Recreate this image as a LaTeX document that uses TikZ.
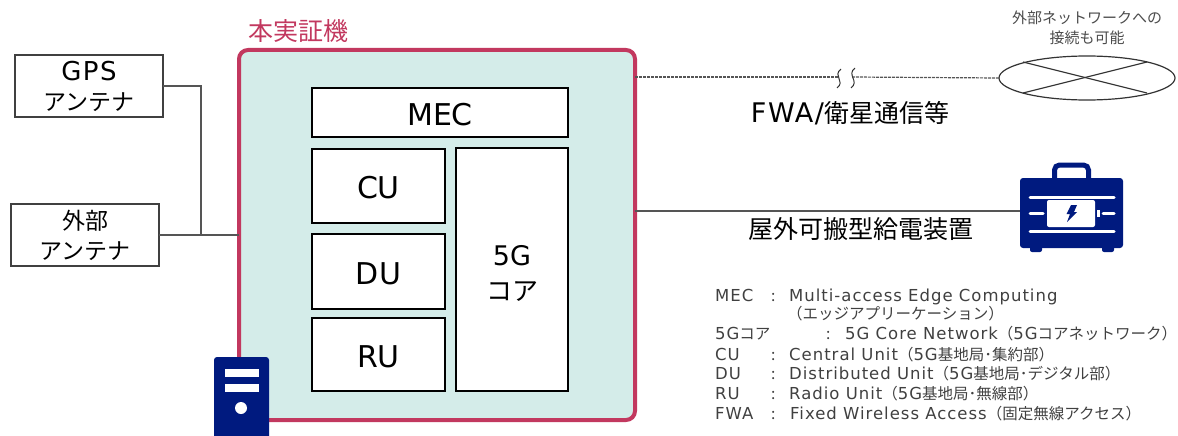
\documentclass[tikz,border=0pt]{standalone}
\usepackage{fontspec}
\usetikzlibrary{shapes.geometric}
\setmainfont{Noto Sans CJK JP}
\newfontfamily\latfont{DejaVu Sans}
\newfontfamily\widefont[LetterSpace=6]{DejaVu Sans}
\newcommand{\lat}[1]{{\widefont\fontsize{16.5}{20}\selectfont #1}}
\definecolor{framered}{HTML}{C2385F}
\definecolor{framefill}{HTML}{D4ECE9}
\definecolor{iconblue}{HTML}{001A7F}
\definecolor{wiregray}{HTML}{555555}
\tikzset{
    antbox/.style={draw=black!75, line width=1.3pt, fill=white, inner sep=0pt, outer sep=0pt, minimum width=148pt, minimum height=62pt, align=center, font=\fontsize{23}{30}\selectfont},
    unitbox/.style={draw=black, line width=1.8pt, fill=white, inner sep=0pt, outer sep=0pt, text height=26pt, font=\fontsize{30}{35}\latfont},
    wire/.style={draw=wiregray, line width=1.2pt},
    bigtext/.style={inner sep=0pt, font=\fontsize{25}{30}\selectfont},
    legend/.style={inner sep=0pt, anchor=base west, text=black!75, font=\fontsize{15.5}{20}\selectfont}
}
\begin{document}
\begin{tikzpicture}[x=1pt, y=-1pt]
    \useasboundingbox (0,0) rectangle (1178,436);
    % frame and units
    \node[draw=framered, fill=framefill, line width=4pt, rounded corners=9pt, inner sep=0pt, outer sep=0pt, minimum width=396pt, minimum height=370pt] (frame) at (437,235) {};
    \node[bigtext, text=framered, anchor=west] (frametitle) at (248,31) {本実証機};
    \node[unitbox, minimum width=256pt, minimum height=49pt] (mec) at (440,112.5) {MEC};
    \node[unitbox, minimum width=133pt, minimum height=74pt] (cu) at (378.5,186) {CU};
    \node[unitbox, minimum width=133pt, minimum height=75pt] (du) at (378.5,271.5) {DU};
    \node[unitbox, minimum width=133pt, minimum height=73pt] (ru) at (378.5,354.5) {RU};
    \node[unitbox, minimum width=112pt, minimum height=243pt, label={[align=center, yshift=-3.5pt, font=\fontsize{26}{35}\selectfont]center:{\latfont\fontsize{27}{35}\selectfont 5G}\\コア}] (core) at (512,269.5) {};
    % antennas
    \node[antbox] (gps) at (89,86) {{\widefont\fontsize{26}{28}\selectfont GPS}\\アンテナ};
    \node[antbox] (ext) at (85,235) {外部\\アンテナ};
    \coordinate (jct) at (201,235);
    \draw[wire] (gps.east) -| (jct);
    \draw[wire] (ext.east) -- (ext.east -| frame.west);
    % outside network
    \node[draw=black!80, line width=1.2pt, ellipse, inner sep=0pt, outer sep=0pt, minimum width=176pt, minimum height=44pt] (net) at (1087,78) {};
    \draw[black!80, line width=1.2pt] (1023,62) -- (1147,93);
    \draw[black!80, line width=1.2pt] (1023,93) -- (1147,62);
    \node[inner sep=0pt, text=black!70, align=center, font=\fontsize{15}{20}\selectfont] (nettext) at (1087,28) {外部ネットワークへの\\接続も可能};
    \coordinate (brka) at (838,77);
    \coordinate (brkb) at (852,77);
    \draw[wire, dash pattern=on 3pt off 1pt] (frame.east |- brka) -- (brka);
    \draw[wire, dash pattern=on 3pt off 1pt] (brkb) -- (net.west);
    \draw[black!80, line width=1pt] (841,69) .. controls (832,76) and (846,81) .. (837,88);
    \draw[black!80, line width=1pt] (855,68) .. controls (846,75) and (860,81) .. (851,88);
    \node[bigtext, anchor=center] (fwa) at (850,113) {{\widefont\fontsize{27}{30}\selectfont FWA/}衛星通信等};
    % power supply
    \coordinate (batt) at (1020,211);
    \draw[wire] (frame.east |- batt) -- (batt);
    \node[bigtext, anchor=center] (power) at (861,229) {屋外可搬型給電装置};
    \draw[iconblue, line width=5pt, rounded corners=5pt] (1054.5,178) -- (1054.5,165) -- (1088.5,165) -- (1088.5,178);
    \fill[iconblue, rounded corners=3pt] (1020,178) rectangle (1123,248);
    \fill[iconblue, rounded corners=2pt] (1030,245) rectangle (1042,252);
    \fill[iconblue, rounded corners=2pt] (1102,245) rectangle (1114,252);
    \draw[white, line width=3pt, line cap=round] (1030,197) -- (1114,197);
    \draw[white, line width=3pt, line cap=round] (1030,231) -- (1114,231);
    \draw[white, line width=3pt, line cap=round] (1030,213.5) -- (1043,213.5);
    \draw[white, line width=3pt, line cap=round] (1103,213.5) -- (1114,213.5);
    \fill[white] (1097,210) rectangle (1100,217);
    \fill[white, rounded corners=2pt] (1047,200) rectangle (1095,227);
    \fill[iconblue] (1071,205) -- (1077,205) -- (1074,212) -- (1077,212) -- (1067,222) -- (1070,214) -- (1066.5,214) -- cycle;
    % server
    \fill[iconblue, rounded corners=3pt] (214,440) -- (214,357) -- (269,357) -- (269,440) -- cycle;
    \fill[white] (225,369) rectangle (259,377);
    \fill[white] (225,384) rectangle (259,392);
    \fill[white] (241,408) circle (6);
    % abbreviations
    \node[legend] (mecname) at (715,301) {\lat{MEC}};
    \node[legend] (meccol) at (771,301) {:};
    \node[legend] (mecval) at (789,301) {\lat{Multi-access Edge Computing}};
    \node[legend] (mecsub) at (787,319) {（エッジアプリーケーション）};
    \node[legend] (corename) at (715,339) {\lat{5G}コア};
    \node[legend] (corecol) at (826,339) {:};
    \node[legend] (coreval) at (845,339) {\lat{5G Core Network}（\lat{5G}コアネットワーク）};
    \node[legend] (cuname) at (715,360) {\lat{CU}};
    \node[legend] (cucol) at (771,360) {:};
    \node[legend] (cuval) at (789,360) {\lat{Central Unit}（\lat{5G}基地局･集約部）};
    \node[legend] (duname) at (715,379) {\lat{DU}};
    \node[legend] (ducol) at (771,379) {:};
    \node[legend] (duval) at (789,379) {\lat{Distributed Unit}（\lat{5G}基地局･デジタル部）};
    \node[legend] (runame) at (715,399) {\lat{RU}};
    \node[legend] (rucol) at (771,399) {:};
    \node[legend] (ruval) at (789,399) {\lat{Radio Unit}（\lat{5G}基地局･無線部）};
    \node[legend] (fwaname) at (715,419) {\lat{FWA}};
    \node[legend] (fwacol) at (771,419) {:};
    \node[legend] (fwaval) at (790,419) {\lat{Fixed Wireless Access}（固定無線アクセス）};
\end{tikzpicture}
\end{document}
